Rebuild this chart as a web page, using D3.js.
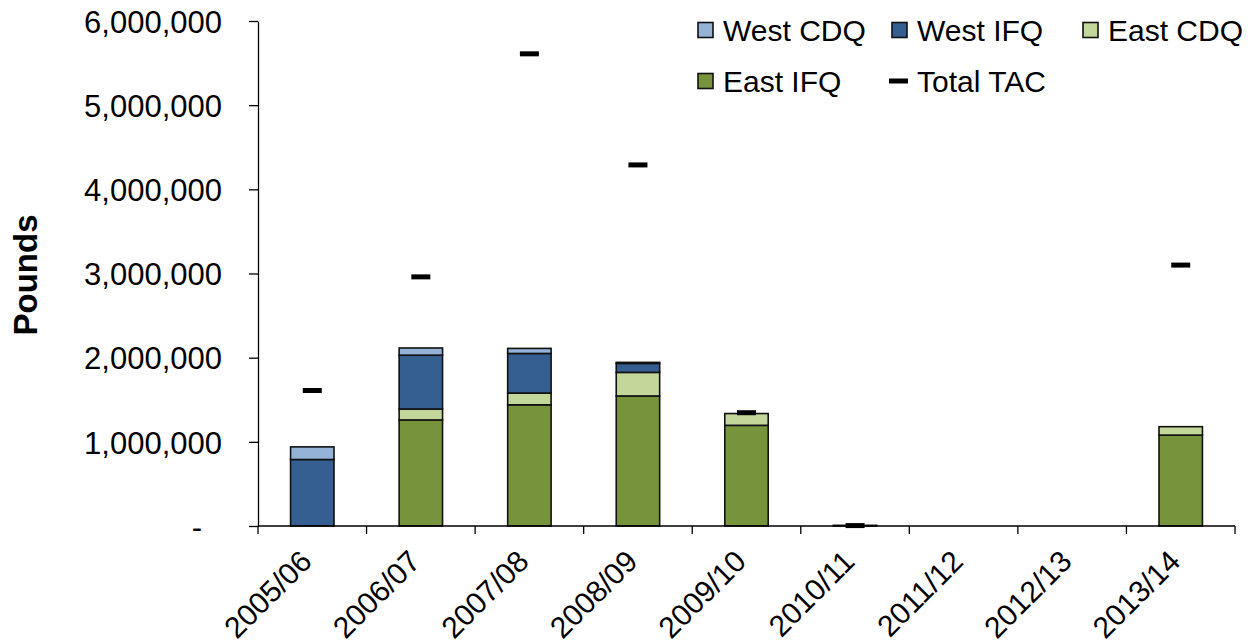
<!DOCTYPE html>
<html>
<head>
  <meta charset="UTF-8">
  <script type="text/javascript" src="https://cdn.jsdelivr.net/npm/d3@7/dist/d3.min.js"></script>
  <title>Pounds by season</title>
  <style>
    body { margin: 0; background: #fff; }
    text { font-family: "Liberation Sans", Arial, sans-serif; fill: #000; }
  </style>
</head>

<body>

<svg xmlns="http://www.w3.org/2000/svg" width="1259" height="644"></svg>

<script type="text/javascript">

  var seasons = [ "2005/06", "2006/07", "2007/08", "2008/09", "2009/10", "2010/11", "2011/12", "2012/13", "2013/14" ];

  // stacked from the bottom up: East IFQ, East CDQ, West IFQ, West CDQ
  var eastIFQ = [ 0, 1260000, 1440000, 1545000, 1196000, 8000, 0, 0, 1080000 ];
  var eastCDQ = [ 0, 130000, 140000, 280000, 140000, 0, 0, 0, 100000 ];
  var westIFQ = [ 790000, 640000, 470000, 107000, 0, 0, 0, 0, 0 ];
  var westCDQ = [ 150000, 85000, 60000, 12000, 0, 0, 0, 0, 0 ];

  var totalTAC = [ 1610000, 2960000, 5610000, 4290000, 1346000, 5000, null, null, 3100000 ];

  var yTicks = [ 0, 1000000, 2000000, 3000000, 4000000, 5000000, 6000000 ];

  var seriesNames = [ "East IFQ", "East CDQ", "West IFQ", "West CDQ" ];
  var seriesColors = { "West CDQ": "#95b3d7", "West IFQ": "#365f91", "East CDQ": "#c4d79b", "East IFQ": "#77933c" };

  var svg = d3.select( "svg" );

  // note: "top" is taken by window.top, so plot edges get their own names
  var plotLeft = 258, plotRight = 1235, plotTop = 21, plotBottom = 526;

  var x = d3.scaleBand().domain( seasons ).range( [plotLeft, plotRight] );
  var y = d3.scaleLinear().domain( [0, 6000000] ).range( [plotBottom, plotTop] );
  var barWidth = x.bandwidth() * 0.4;

  var rows = seasons.map( function ( s, i )
  {
    return { season: s, "East IFQ": eastIFQ[i], "East CDQ": eastCDQ[i], "West IFQ": westIFQ[i], "West CDQ": westCDQ[i] };
  } );

  var stacked = d3.stack().keys( seriesNames )( rows );

  svg.selectAll( "g.series" ).data( stacked ).enter()
      .append( "g" )
      .attr( "class", "series" )
      .attr( "fill", function ( d ) { return seriesColors[d.key]; } )
      .selectAll( "rect" ).data( function ( d ) { return d.filter( function ( p ) { return p[1] - p[0] > 0; } ); } ).enter()
      .append( "rect" )
      .attr( "x", function ( p ) { return x( p.data.season ) + (x.bandwidth() - barWidth) / 2; } )
      .attr( "y", function ( p ) { return y( p[1] ); } )
      .attr( "width", barWidth )
      .attr( "height", function ( p ) { return y( p[0] ) - y( p[1] ); } )
      .attr( "stroke", "#111" )
      .attr( "stroke-width", 1.6 );

  // Total TAC markers
  var tacWidth = 19, tacHeight = 5;
  svg.selectAll( "rect.tac" ).data( seasons.filter( function ( s, i ) { return totalTAC[i] != null; } ) ).enter()
      .append( "rect" )
      .attr( "class", "tac" )
      .attr( "x", function ( s ) { return x( s ) + x.bandwidth() / 2 - tacWidth / 2; } )
      .attr( "y", function ( s ) { return y( totalTAC[seasons.indexOf( s )] ) - tacHeight / 2; } )
      .attr( "width", tacWidth )
      .attr( "height", tacHeight )
      .attr( "fill", "#000" );

  // y axis
  var yAxis = d3.axisLeft( y )
      .tickValues( yTicks )
      .tickSize( 9 )
      .tickSizeOuter( 0 )
      .tickPadding( 27 )
      .tickFormat( function ( d ) { return d === 0 ? "-" : d3.format( "," )( d ); } );

  var gy = svg.append( "g" ).attr( "transform", "translate(" + plotLeft + ",0)" ).call( yAxis );
  gy.select( ".domain" ).attr( "stroke", "#000" ).attr( "stroke-width", 1.3 );
  gy.selectAll( ".tick line" ).attr( "stroke", "#000" ).attr( "stroke-width", 1.3 );
  gy.selectAll( ".tick text" )
      .attr( "font-family", null )
      .attr( "font-size", null )
      .style( "font-size", "31px" )
      .attr( "dy", "0.36em" )
      .attr( "dx", function ( d ) { return d === 0 ? -20 : 0; } );

  // x axis: line plus ticks at band edges
  svg.append( "line" )
      .attr( "x1", plotLeft ).attr( "x2", plotRight )
      .attr( "y1", plotBottom ).attr( "y2", plotBottom )
      .attr( "stroke", "#000" ).attr( "stroke-width", 1.3 );

  var edges = seasons.map( function ( s ) { return x( s ); } ).concat( [plotRight] );
  svg.selectAll( "line.xtick" ).data( edges ).enter()
      .append( "line" )
      .attr( "class", "xtick" )
      .attr( "x1", function ( d ) { return d; } ).attr( "x2", function ( d ) { return d; } )
      .attr( "y1", plotBottom ).attr( "y2", plotBottom + 8 )
      .attr( "stroke", "#000" ).attr( "stroke-width", 1.3 );

  svg.selectAll( "text.xlabel" ).data( seasons ).enter()
      .append( "text" )
      .attr( "class", "xlabel" )
      .attr( "transform", function ( s ) { return "translate(" + (x( s ) + x.bandwidth() / 2 - 14) + "," + (plotBottom + 22) + ") rotate(-45)"; } )
      .attr( "text-anchor", "end" )
      .attr( "dy", "0.72em" )
      .style( "font-size", "30px" )
      .text( function ( s ) { return s; } );

  svg.append( "text" )
      .attr( "transform", "translate(37,275) rotate(-90)" )
      .attr( "text-anchor", "middle" )
      .style( "font-size", "33px" )
      .style( "font-weight", "bold" )
      .text( "Pounds" );

  // legend
  var legendItems = [
    { name: "West CDQ", x: 697, y: 30 },
    { name: "West IFQ", x: 891, y: 30 },
    { name: "East CDQ", x: 1082, y: 30 },
    { name: "East IFQ", x: 697, y: 81 },
    { name: "Total TAC", x: 889, y: 81 }
  ];

  var legend = svg.selectAll( "g.legend" ).data( legendItems ).enter()
      .append( "g" )
      .attr( "class", "legend" )
      .attr( "transform", function ( d ) { return "translate(" + d.x + "," + d.y + ")"; } );

  legend.filter( function ( d ) { return d.name !== "Total TAC"; } )
      .append( "rect" )
      .attr( "x", 1 ).attr( "y", -7.5 )
      .attr( "width", 15 ).attr( "height", 15 )
      .attr( "fill", function ( d ) { return seriesColors[d.name]; } )
      .attr( "stroke", "#111" )
      .attr( "stroke-width", 1.6 );

  legend.filter( function ( d ) { return d.name === "Total TAC"; } )
      .append( "rect" )
      .attr( "x", 0 ).attr( "y", -2.5 )
      .attr( "width", 19 ).attr( "height", 5 )
      .attr( "fill", "#000" );

  legend.append( "text" )
      .attr( "x", function ( d ) { return d.name === "Total TAC" ? 28 : 26; } )
      .attr( "y", 0 )
      .attr( "dy", "0.35em" )
      .style( "font-size", "30px" )
      .text( function ( d ) { return d.name; } );
</script>

</body>
</html>
